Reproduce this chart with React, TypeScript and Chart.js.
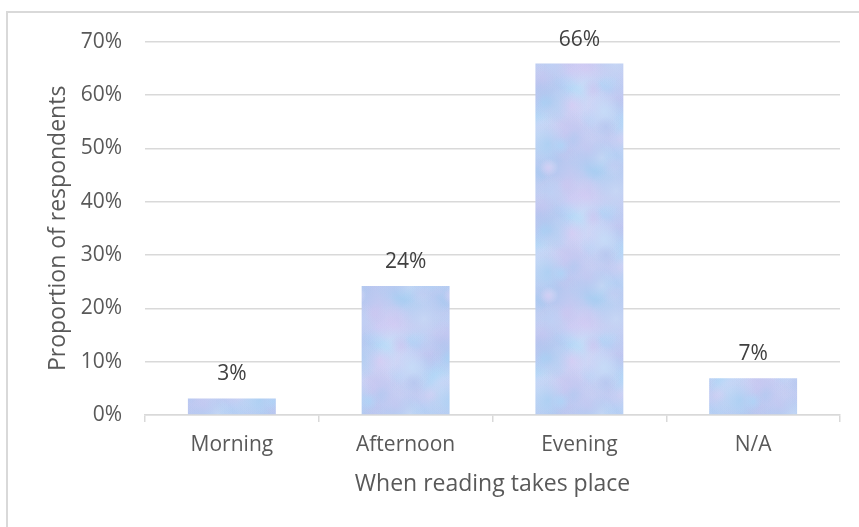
import React, { useEffect, useRef } from "react";
import { Chart, registerables } from "chart.js";

Chart.register(...registerables);

const categories: string[] = ["Morning", "Afternoon", "Evening", "N/A"];
const shares: number[] = [3.1, 24.2, 65.9, 6.9];
const yTicks: number[] = [0, 10, 20, 30, 40, 50, 60, 70];
const xTitle = "When reading takes place";
const yTitle = "Proportion of respondents";

const FONT = "'Open Sans', 'Noto Sans', sans-serif";

function makeTexture(): CanvasPattern | string {
  const c = document.createElement("canvas");
  c.width = 96;
  c.height = 128;
  const g = c.getContext("2d");
  if (!g) return "#bccdf2";
  g.fillStyle = "#bfcdf2";
  g.fillRect(0, 0, c.width, c.height);
  const cols = ["#a9d7f8", "#cbc5f0", "#dbc9f3", "#b3c3ee", "#d0e0f8", "#a3cdf1", "#c4cff3"];
  for (let i = 0; i < 110; i++) {
    const h1 = Math.abs(Math.sin(i * 12.9898 + 1.7) * 43758.5453) % 1;
    const h2 = Math.abs(Math.sin(i * 78.233 + 4.1) * 24634.6345) % 1;
    const h3 = Math.abs(Math.sin(i * 39.425 + 2.3) * 12345.6789) % 1;
    const x = h1 * c.width;
    const y = h2 * c.height;
    const r = 9 + h3 * 18;
    const col = cols[i % cols.length];
    for (const dx of [-c.width, 0, c.width]) {
      for (const dy of [-c.height, 0, c.height]) {
        const grd = g.createRadialGradient(x + dx, y + dy, 0, x + dx, y + dy, r);
        grd.addColorStop(0, col + "99");
        grd.addColorStop(1, col + "00");
        g.fillStyle = grd;
        g.beginPath();
        g.arc(x + dx, y + dy, r, 0, Math.PI * 2);
        g.fill();
      }
    }
  }
  const p = g.createPattern(c, "repeat");
  return p || "#bccdf2";
}

const borderPlugin = {
  id: "outerBorder",
  beforeDraw(chart: any) {
    const ctx = chart.ctx;
    ctx.save();
    ctx.fillStyle = "#ffffff";
    ctx.fillRect(0, 0, chart.width, chart.height);
    ctx.strokeStyle = "#d9d9d9";
    ctx.lineWidth = 2;
    ctx.strokeRect(7, 12, chart.width + 10, chart.height + 10);
    ctx.restore();
  },
};

const labelPlugin = {
  id: "barLabels",
  afterDatasetsDraw(chart: any) {
    const ctx = chart.ctx;
    const meta = chart.getDatasetMeta(0);
    ctx.save();
    ctx.font = `21px ${FONT}`;
    ctx.fillStyle = "#404040";
    ctx.textAlign = "center";
    ctx.textBaseline = "alphabetic";
    meta.data.forEach((bar: any, i: number) => {
      const v = shares[i];
      ctx.fillText(`${Math.round(v)}%`, bar.x, bar.y - 18);
    });
    ctx.restore();
  },
};

export default function App() {
  const ref = useRef<HTMLCanvasElement | null>(null);

  useEffect(() => {
    if (!ref.current) return;
    const texture = makeTexture();
    const chart = new Chart(ref.current, {
      type: "bar",
      data: {
        labels: categories,
        datasets: [
          {
            data: shares,
            backgroundColor: texture as any,
            borderWidth: 0,
            categoryPercentage: 0.506,
            barPercentage: 1,
          },
        ],
      },
      options: {
        responsive: false,
        animation: false,
        devicePixelRatio: 1,
        layout: { padding: { top: 41.7, right: 19, bottom: 0, left: 0 } },
        plugins: {
          legend: { display: false },
          tooltip: { enabled: false },
        },
        scales: {
          x: {
            grid: {
              display: true,
              drawOnChartArea: false,
              drawTicks: true,
              tickLength: 7,
              color: "#d9d9d9",
              lineWidth: 1.5,
              offset: true,
            },
            border: { display: true, color: "#d9d9d9", width: 1.5 },
            ticks: {
              color: "#595959",
              font: { family: FONT, size: 21 },
              padding: 10,
              maxRotation: 0,
            },
            title: {
              display: true,
              text: xTitle,
              color: "#595959",
              font: { family: FONT, size: 23 },
              padding: { top: 0, bottom: 29 },
            },
            afterFit(scale: any) {
              scale.height = 112;
            },
          },
          y: {
            min: 0,
            max: 70,
            afterBuildTicks(scale: any) {
              scale.ticks = yTicks.map((v) => ({ value: v }));
            },
            grid: {
              display: true,
              drawTicks: false,
              color: "#d9d9d9",
              lineWidth: 1.5,
            },
            border: { display: false },
            ticks: {
              color: "#595959",
              font: { family: FONT, size: 21 },
              padding: 23,
              callback: (v: any) => `${v}%`,
            },
            title: {
              display: true,
              text: yTitle,
              color: "#595959",
              font: { family: FONT, size: 23 },
              padding: { top: 45, bottom: 0 },
            },
            afterFit(scale: any) {
              scale.width = 145;
            },
          },
        },
      },
      plugins: [borderPlugin, labelPlugin],
    });
    return () => chart.destroy();
  }, []);

  return (
    <div style={{ position: "fixed", left: 0, top: 0, width: 859, height: 527 }}>
      <canvas ref={ref} width={859} height={527} style={{ display: "block" }} />
    </div>
  );
}
